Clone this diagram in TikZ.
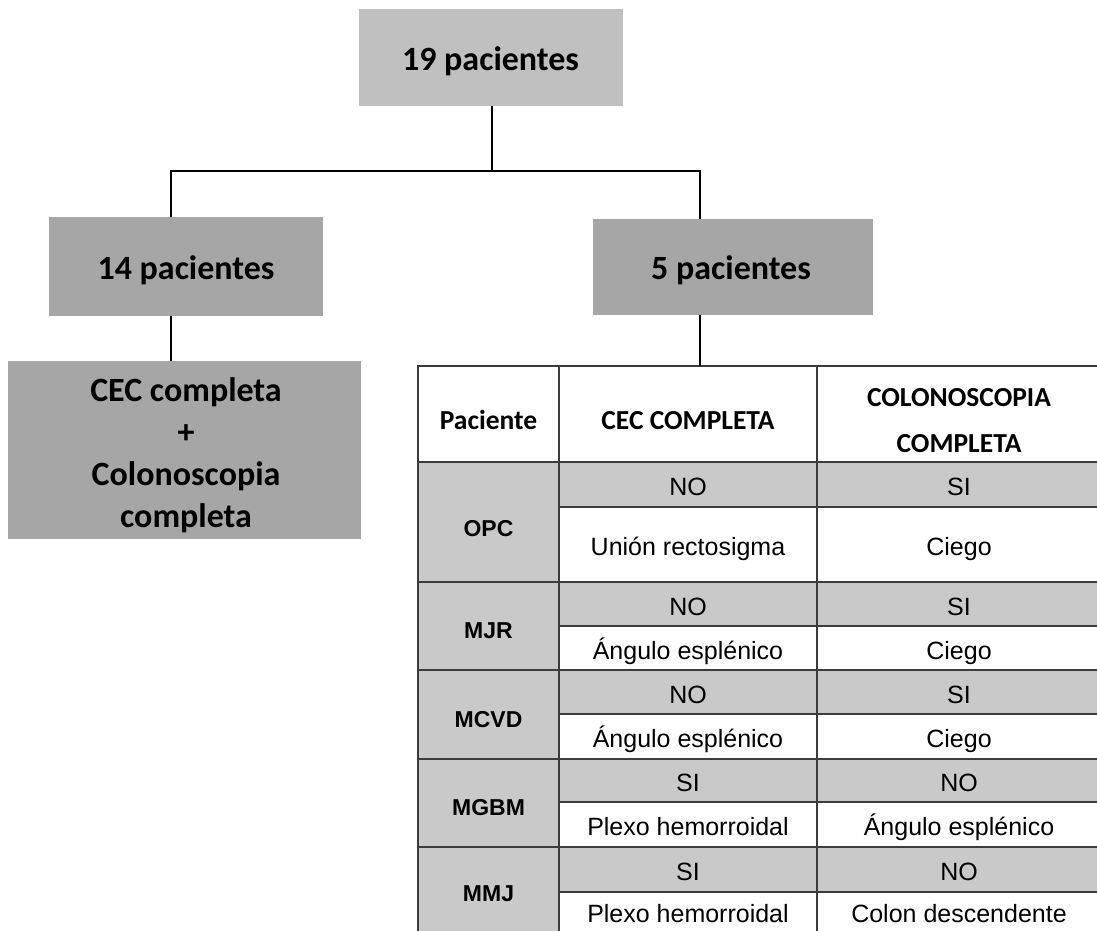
\documentclass[tikz,border=0pt]{standalone}
\usepackage{fontspec}
\newfontfamily\calfont{Carlito}
\newfontfamily\arifont{Liberation Sans}
\definecolor{boxtop}{HTML}{C0C0C0}
\definecolor{boxmid}{HTML}{A6A6A6}
\definecolor{cellgray}{HTML}{C9C9C9}
\definecolor{tline}{HTML}{3C3C3C}
\begin{document}
\begin{tikzpicture}[x=1pt,y=-1pt,
  box/.style={inner sep=0pt, outer sep=0pt},
  boxtext/.style={inner sep=0pt, align=center, font=\calfont\bfseries\fontsize{34}{42}\selectfont},
  onetext/.style={inner sep=0pt, font=\calfont\bfseries\fontsize{34}{42}\selectfont, text height=22pt, text depth=0pt},
  tcell/.style={draw=tline, line width=2pt, inner sep=0pt, outer sep=0pt},
  gcell/.style={tcell, fill=cellgray},
  wcell/.style={tcell, fill=white},
  hd/.style={inner sep=0pt, align=center, font=\calfont\bfseries\fontsize{27.5}{46}\selectfont},
  hdone/.style={inner sep=0pt, font=\calfont\bfseries\fontsize{27.5}{46}\selectfont, text height=17.7pt, text depth=0pt, yshift=-7pt},
  bd/.style={inner sep=0pt, font=\arifont\fontsize{25}{30}\selectfont, text height=17.9pt, text depth=0pt, yshift=-2.5pt},
  pid/.style={inner sep=0pt, font=\arifont\bfseries\fontsize{23}{28}\selectfont, text height=16.5pt, text depth=0pt, yshift=-4.5pt},
  conn/.style={line width=1.5pt, black}]
\useasboundingbox (0,0) rectangle (1097,930);

% boxes
\node[box, fill=boxtop, minimum width=264pt, minimum height=97pt] (top) at (490.5,57.5) {};
\node[onetext] (topt) at (490.5,59.5) {19 pacientes};
\node[box, fill=boxmid, minimum width=274pt, minimum height=99pt] (b14) at (186,266.5) {};
\node[onetext] (b14t) at (186,268) {14 pacientes};
\node[box, fill=boxmid, minimum width=280pt, minimum height=96pt] (b5) at (733,267) {};
\node[onetext] (b5t) at (731,268.3) {5 pacientes};
\node[box, fill=boxmid, minimum width=353pt, minimum height=178pt] (cec) at (184.5,450) {};
\node[boxtext] (cect) at (186,455) {CEC completa\\+\\Colonoscopia\\completa};

% table
\begin{scope}
\clip (0,0) rectangle (1097,930);
% header
\node[wcell, minimum width=141pt, minimum height=96pt] (h1) at (488.5,414) {};
\node[wcell, minimum width=258pt, minimum height=96pt] (h2) at (688,414) {};
\node[wcell, minimum width=284pt, minimum height=96pt] (h3) at (959,414) {};
% OPC
\node[gcell, minimum width=141pt, minimum height=120pt] (p1) at (488.5,522) {};
\node[gcell, minimum width=258pt, minimum height=45pt] (p1a) at (688,484.5) {};
\node[gcell, minimum width=284pt, minimum height=45pt] (p1b) at (959,484.5) {};
\node[wcell, minimum width=258pt, minimum height=75pt] (p1c) at (688,544.5) {};
\node[wcell, minimum width=284pt, minimum height=75pt] (p1d) at (959,544.5) {};
% MJR
\node[gcell, minimum width=141pt, minimum height=88pt] (p2) at (488.5,626) {};
\node[gcell, minimum width=258pt, minimum height=44pt] (p2a) at (688,604) {};
\node[gcell, minimum width=284pt, minimum height=44pt] (p2b) at (959,604) {};
\node[wcell, minimum width=258pt, minimum height=44pt] (p2c) at (688,648) {};
\node[wcell, minimum width=284pt, minimum height=44pt] (p2d) at (959,648) {};
% MCVD
\node[gcell, minimum width=141pt, minimum height=89pt] (p3) at (488.5,714.5) {};
\node[gcell, minimum width=258pt, minimum height=44pt] (p3a) at (688,692) {};
\node[gcell, minimum width=284pt, minimum height=44pt] (p3b) at (959,692) {};
\node[wcell, minimum width=258pt, minimum height=45pt] (p3c) at (688,736.5) {};
\node[wcell, minimum width=284pt, minimum height=45pt] (p3d) at (959,736.5) {};
% MGBM
\node[gcell, minimum width=141pt, minimum height=88pt] (p4) at (488.5,803) {};
\node[gcell, minimum width=258pt, minimum height=43pt] (p4a) at (688,780.5) {};
\node[gcell, minimum width=284pt, minimum height=43pt] (p4b) at (959,780.5) {};
\node[wcell, minimum width=258pt, minimum height=45pt] (p4c) at (688,824.5) {};
\node[wcell, minimum width=284pt, minimum height=45pt] (p4d) at (959,824.5) {};
% MMJ
\node[gcell, minimum width=141pt, minimum height=90pt] (p5) at (488.5,892) {};
\node[gcell, minimum width=258pt, minimum height=45pt] (p5a) at (688,869.5) {};
\node[gcell, minimum width=284pt, minimum height=45pt] (p5b) at (959,869.5) {};
\node[wcell, minimum width=258pt, minimum height=45pt] (p5c) at (688,914.5) {};
\node[wcell, minimum width=284pt, minimum height=45pt] (p5d) at (959,914.5) {};

% header text
\node[hdone] (th1) at (h1.center) {Paciente};
\node[hdone] (th2) at (h2.center) {CEC COMPLETA};
\node[hd] (th3) at ([yshift=-7pt]h3.center) {COLONOSCOPIA\\COMPLETA};
% ids
\node[pid, yshift=-1.5pt] (t1) at (p1.center) {OPC};
\node[pid] (t2) at (p2.center) {MJR};
\node[pid] (t3) at (p3.center) {MCVD};
\node[pid] (t4) at (p4.center) {MGBM};
\node[pid] (t5) at ([yshift=3pt]p5.center) {MMJ};
% values
\node[bd] (v1a) at (p1a.center) {NO};
\node[bd] (v1b) at (p1b.center) {SI};
\node[bd] (v1c) at (p1c.center) {Unión rectosigma};
\node[bd] (v1d) at (p1d.center) {Ciego};
\node[bd] (v2a) at (p2a.center) {NO};
\node[bd] (v2b) at (p2b.center) {SI};
\node[bd] (v2c) at (p2c.center) {Ángulo esplénico};
\node[bd] (v2d) at (p2d.center) {Ciego};
\node[bd] (v3a) at (p3a.center) {NO};
\node[bd] (v3b) at (p3b.center) {SI};
\node[bd] (v3c) at (p3c.center) {Ángulo esplénico};
\node[bd] (v3d) at (p3d.center) {Ciego};
\node[bd] (v4a) at (p4a.center) {SI};
\node[bd] (v4b) at (p4b.center) {NO};
\node[bd] (v4c) at (p4c.center) {Plexo hemorroidal};
\node[bd] (v4d) at (p4d.center) {Ángulo esplénico};
\node[bd] (v5a) at (p5a.center) {SI};
\node[bd] (v5b) at (p5b.center) {NO};
\node[bd] (v5c) at ([yshift=3pt]p5c.center) {Plexo hemorroidal};
\node[bd] (v5d) at ([yshift=3pt]p5d.center) {Colon descendente};
\end{scope}

% connectors
\coordinate (j) at (492,171);
\coordinate (jl) at (171,171);
\coordinate (jr) at (700,171);
\draw[conn] (j |- top.south) -- (j);
\draw[conn] (jl |- b14.north) -- (jl) -- (jr) -- (jr |- b5.north);
\draw[conn] (jl |- b14.south) -- (jl |- cec.north);
\draw[conn] (jr |- b5.south) -- (jr |- h2.north);
\end{tikzpicture}
\end{document}
